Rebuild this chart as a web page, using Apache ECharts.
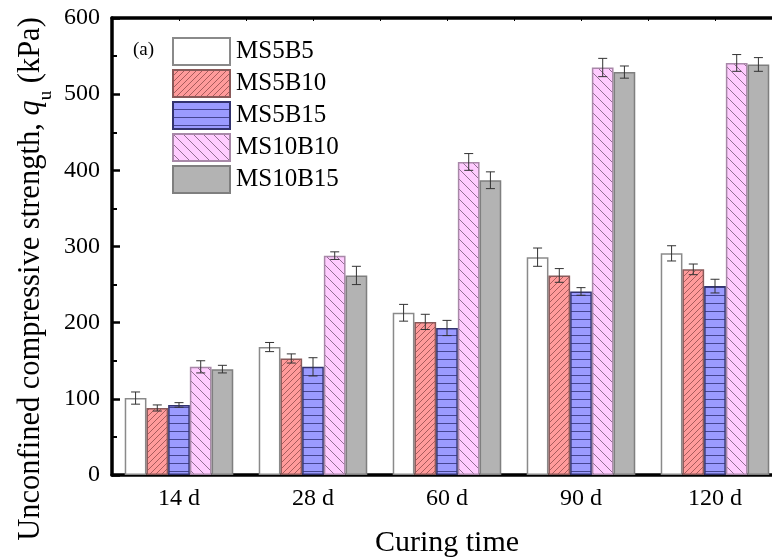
<!DOCTYPE html>
<html>
<head>
<meta charset="utf-8">
<script src="https://cdn.jsdelivr.net/npm/echarts@6/dist/echarts.min.js"></script>
<style>
  html, body { margin: 0; padding: 0; background: #fff; }
  #chart { width: 772px; height: 559px; }
</style>
</head>
<body>
<div id="chart"></div>
<script>
// Curing times on the category axis
const categories = ['14 d', '28 d', '60 d', '90 d', '120 d'];
const yTicks = [0, 100, 200, 300, 400, 500, 600];

// Mean unconfined compressive strength (kPa) per mix
const ms5b5 = [101, 168, 213, 286, 291];
const ms5b10 = [88, 153, 201, 262, 270];
const ms5b15 = [92, 142, 193, 241, 248];
const ms10b10 = [142, 288, 411, 535, 541];
const ms10b15 = [139, 262, 387, 529, 539];

// Error (± kPa) per mix
const ms5b5Err = [8, 6, 11, 12, 10];
const ms5b10Err = [4, 6, 10, 9, 7];
const ms5b15Err = [3, 12, 10, 5, 9];
const ms10b10Err = [8, 5, 11, 12, 11];
const ms10b15Err = [5, 12, 11, 8, 9];

const seriesNames = ['MS5B5', 'MS5B10', 'MS5B15', 'MS10B10', 'MS10B15'];
const seriesValues = [ms5b5, ms5b10, ms5b15, ms10b10, ms10b15];
const seriesErrors = [ms5b5Err, ms5b10Err, ms5b15Err, ms10b10Err, ms10b15Err];

const FONT = "'Liberation Serif', 'Times New Roman', serif";
const GAP = 0.19;

// Hatch tiles used as bar fills
function hatch(bg, line, size, kind, lw) {
  const c = document.createElement('canvas');
  c.width = size; c.height = size;
  const g = c.getContext('2d');
  g.fillStyle = bg; g.fillRect(0, 0, size, size);
  g.strokeStyle = line; g.lineWidth = lw;
  g.beginPath();
  if (kind === 'h') {
    g.moveTo(0, size - 0.5); g.lineTo(size, size - 0.5);
  } else {
    for (let k = -1; k <= 1; k++) {
      if (kind === '/') { g.moveTo(k * size, size); g.lineTo(k * size + size, 0); }
      else { g.moveTo(k * size, 0); g.lineTo(k * size + size, size); }
    }
  }
  g.stroke();
  return { image: c, repeat: 'repeat' };
}

const fills = [
  '#ffffff',
  hatch('#ff9b9b', 'rgba(110,50,50,0.6)', 6, '/', 1),
  hatch('#9b9bff', 'rgba(40,40,110,0.75)', 8, 'h', 1),
  hatch('#ffccff', 'rgba(100,70,100,0.7)', 10, '\\', 1),
  '#b3b3b3'
];
const borders = ['#8a8a8a', '#8a5a5a', '#33336e', '#a888a8', '#7f7f7f'];

const barSeries = seriesNames.map((name, i) => ({
  name: name,
  type: 'bar',
  data: seriesValues[i],
  barGap: '0%',
  barCategoryGap: (GAP * 100) + '%',
  itemStyle: { color: fills[i], borderColor: borders[i], borderWidth: 1.5 },
  emphasis: { disabled: true },
  z: 2
}));

const errData = [];
seriesValues.forEach((vals, s) => {
  vals.forEach((v, c) => errData.push([c, s, v, seriesErrors[s][c]]));
});

const errorSeries = {
  type: 'custom',
  data: errData,
  encode: { x: 0, y: 2 },
  z: 5,
  silent: true,
  renderItem: function (params, api) {
    const c = api.value(0), s = api.value(1), v = api.value(2), e = api.value(3);
    const band = api.size([1, 0])[0];
    const bw = band * (1 - GAP) / seriesNames.length;
    const x = api.coord([c, v])[0] + (s - 2) * bw;
    const yHi = api.coord([c, v + e])[1];
    const yLo = api.coord([c, v - e])[1];
    const cap = 4.5;
    const st = { stroke: '#333', lineWidth: 1 };
    return {
      type: 'group',
      children: [
        { type: 'line', shape: { x1: x, y1: yHi, x2: x, y2: yLo }, style: st },
        { type: 'line', shape: { x1: x - cap, y1: yHi, x2: x + cap, y2: yHi }, style: st },
        { type: 'line', shape: { x1: x - cap, y1: yLo, x2: x + cap, y2: yLo }, style: st }
      ]
    };
  }
};

const chart = echarts.init(document.getElementById('chart'), null, { renderer: 'canvas' });
chart.setOption({
  animation: false,
  backgroundColor: '#fff',
  grid: { left: 112, top: 18, width: 670, height: 457, containLabel: false, outerBoundsMode: 'none' },
  legend: {
    orient: 'vertical',
    left: 172, top: 37,
    padding: 0,
    itemWidth: 57, itemHeight: 27, itemGap: 3,
    icon: 'rect',
    data: seriesNames,
    selectedMode: false,
    textStyle: { fontFamily: FONT, fontSize: 25, color: '#000', padding: [0, 0, 0, 1] }
  },
  graphic: [{
    type: 'text', left: 133, top: 41,
    style: { text: '(a)', fontFamily: FONT, fontSize: 19, fill: '#000' }
  }, {
    // Rotated y-axis title with italic q and subscript u
    type: 'text',
    x: 31, y: 279,
    rotation: Math.PI / 2,
    style: {
      text: '{n|Unconfined compressive strength, }{q|q}{s|u}{n| (kPa)}',
      align: 'center',
      verticalAlign: 'middle',
      rich: {
        n: { fontFamily: FONT, fontSize: 30.5, fill: '#000', lineHeight: 36 },
        q: { fontFamily: FONT, fontSize: 30.5, fontStyle: 'italic', fill: '#000', lineHeight: 36 },
        s: { fontFamily: FONT, fontSize: 19, fill: '#000', lineHeight: 36, verticalAlign: 'bottom', padding: [0, 0, -7, 0] }
      }
    }
  }],
  xAxis: [{
    type: 'category',
    data: categories,
    position: 'bottom',
    axisLine: { lineStyle: { color: '#000', width: 3.5 } },
    axisTick: { inside: true, alignWithLabel: true, length: 7, lineStyle: { color: '#000', width: 3 } },
    axisLabel: { fontFamily: FONT, fontSize: 24, color: '#000', margin: 12 },
    name: 'Curing time',
    nameLocation: 'middle',
    nameGap: 53,
    nameTextStyle: { fontFamily: FONT, fontSize: 30, color: '#000' }
  }, {
    type: 'value',
    position: 'top',
    min: 0, max: 5, interval: 0.5,
    axisLine: { show: true, lineStyle: { color: '#000', width: 3.5 } },
    axisTick: { show: true, inside: true, length: 3, lineStyle: { color: '#000', width: 1 } },
    axisLabel: { show: false },
    splitLine: { show: false }
  }],
  yAxis: {
    type: 'value',
    min: yTicks[0], max: yTicks[yTicks.length - 1], interval: 100,
    axisLine: { show: true, lineStyle: { color: '#000', width: 3.5 } },
    axisTick: { show: true, inside: true, length: 8, lineStyle: { color: '#000', width: 2.5 } },
    minorTick: { show: true, splitNumber: 2, length: 5, lineStyle: { color: '#000', width: 2 } },
    axisLabel: { fontFamily: FONT, fontSize: 24, color: '#000', margin: 12 },
    splitLine: { show: false }
  },
  series: barSeries.concat([errorSeries])
});
</script>
</body>
</html>
